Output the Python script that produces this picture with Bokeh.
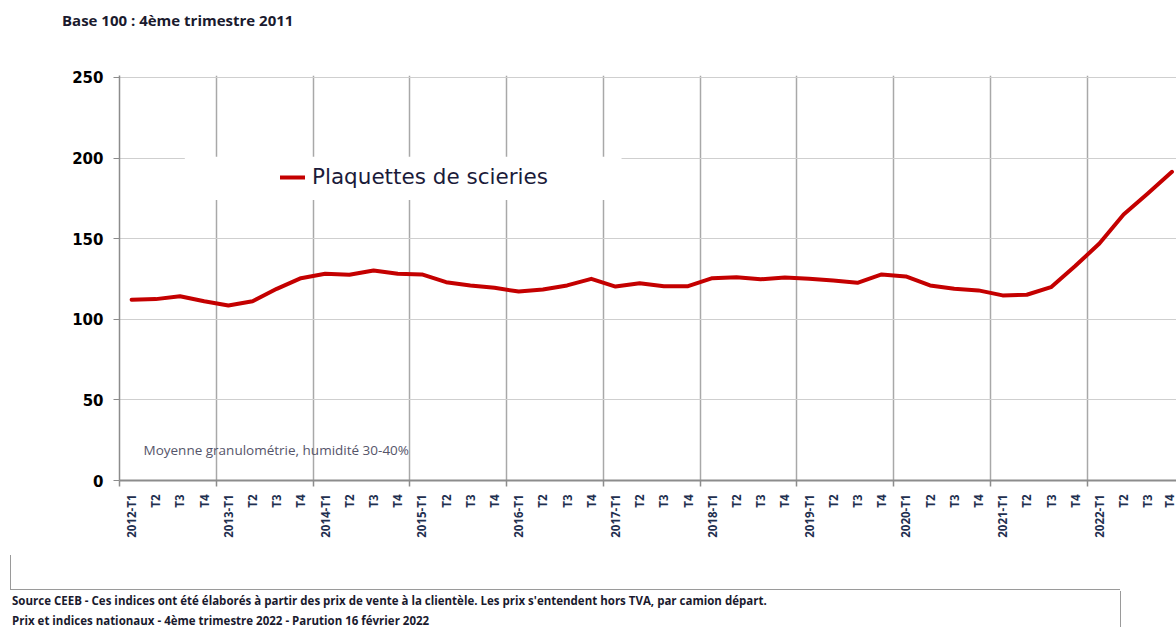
import math
from bokeh.plotting import figure
from bokeh.models import (ColumnDataSource, FixedTicker, Range1d, Label, Legend,
                          LegendItem, BoxAnnotation, Div)
from bokeh.layouts import column
from bokeh.embed import file_html
from bokeh.resources import INLINE

# Quarterly index, base 100 = Q4 2011
years = list(range(2012, 2023))
quarters = ["T1", "T2", "T3", "T4"]
tick_labels = []
for y in years:
    for q in quarters:
        tick_labels.append(f"{y}-{q}" if q == "T1" else q)

plaquettes = [112.1, 112.5, 114.3, 111.2,
              108.6, 111.2, 118.9, 125.5,
              128.2, 127.6, 130.3, 128.2,
              127.8, 123.0, 121.0, 119.5,
              117.2, 118.5, 121.0, 125.1,
              120.3, 122.4, 120.5, 120.5,
              125.5, 126.1, 124.8, 125.9,
              125.1, 124.0, 122.6, 127.8,
              126.6, 121.0, 118.9, 117.9,
              114.8, 115.2, 119.9, 133.0,
              147.0, 165.0, 178.0, 191.5]

y_ticks = [0, 50, 100, 150, 200, 250]

series_name = "Plaquettes de scieries"
title_text = "Base 100 : 4ème trimestre 2011"
note_text = "Moyenne granulométrie,  humidité 30-40%"
source_text = ("Source CEEB - Ces indices ont été élaborés à partir des prix de vente à la clientèle. "
               "Les prix s'entendent hors TVA, par camion départ.")
edition_text = "Prix et indices nationaux - 4ème trimestre 2022 - Parution 16 février 2022"

xs = list(range(len(tick_labels)))
src = ColumnDataSource(data=dict(x=xs, y=plaquettes))

left_border = 119
fig_w = 1176
step = 24.195
x_end = -0.5 + (fig_w - left_border) / step
header_h = 40

header = Div(width=fig_w, height=header_h, margin=0, text=f"""
<div style="position:relative;width:{fig_w}px;height:{header_h}px;">
  <div style="position:absolute;left:62px;top:10px;font-family:'Open Sans';font-weight:bold;
              font-size:15px;line-height:20px;color:#1a1a2e;white-space:nowrap;">{title_text}</div>
</div>
""")

p = figure(width=fig_w, height=555 - header_h, output_backend="svg", toolbar_location=None,
           x_range=Range1d(-0.5, x_end), y_range=Range1d(0, 251.2),
           min_border_left=left_border, min_border_right=0,
           min_border_top=75 - header_h, min_border_bottom=75, margin=0)
p.outline_line_color = None
p.background_fill_color = "white"
p.border_fill_color = "white"

# x axis: labels at every quarter, tick marks only at year boundaries
bounds = [i - 0.5 for i in range(4, len(tick_labels), 4)]
p.xaxis.ticker = FixedTicker(ticks=xs, minor_ticks=[-0.5] + bounds)
p.xaxis.major_label_overrides = {i: lab for i, lab in enumerate(tick_labels)}
p.xaxis.major_label_orientation = math.pi / 2
p.xaxis.major_label_text_font = "Open Sans"
p.xaxis.major_label_text_font_style = "bold"
p.xaxis.major_label_text_font_size = "11.5px"
p.xaxis.major_label_text_color = "#1f3050"
p.xaxis.major_label_standoff = 8
p.xaxis.major_tick_line_color = None
p.xaxis.major_tick_out = 0
p.xaxis.minor_tick_in = 0
p.xaxis.minor_tick_out = 6
p.xaxis.minor_tick_line_color = "#8c8c8c"
p.xaxis.minor_tick_line_width = 1.5
p.xaxis.axis_line_color = "#8c8c8c"
p.xaxis.axis_line_width = 2

p.xgrid.ticker = FixedTicker(ticks=bounds)
p.xgrid.grid_line_color = "#a8a8a8"
p.xgrid.grid_line_width = 1.5

# y axis
p.yaxis.ticker = FixedTicker(ticks=y_ticks)
p.yaxis.major_label_text_font = "DejaVu Sans"
p.yaxis.major_label_text_font_style = "bold"
p.yaxis.major_label_text_font_size = "15px"
p.yaxis.major_label_text_color = "#000000"
p.yaxis.major_label_standoff = 10
p.yaxis.major_tick_in = 0
p.yaxis.major_tick_out = 6
p.yaxis.major_tick_line_color = "#8c8c8c"
p.yaxis.minor_tick_line_color = None
p.yaxis.axis_line_color = "#8c8c8c"
p.yaxis.axis_line_width = 1.5
p.ygrid.grid_line_color = "#cfcfcf"
p.ygrid.grid_line_width = 1.2

# white panel behind the legend
p.add_layout(BoxAnnotation(left=2.2, right=20.25, bottom=174.0, top=200.8,
                           fill_color="white", fill_alpha=1.0, line_color=None))

r = p.line("x", "y", source=src, line_color="#c40000", line_width=4,
           line_join="round", line_cap="round")

legend = Legend(items=[LegendItem(label=series_name, renderers=[r])],
                location=(161, 291), padding=0, margin=0, spacing=0,
                glyph_width=25, label_standoff=7,
                label_text_font="DejaVu Sans", label_text_font_size="21.5px",
                label_text_color="#1b1b3a",
                background_fill_alpha=0, border_line_color=None)
p.add_layout(legend, "center")

p.add_layout(Label(x=24, y=31, x_units="screen", y_units="screen", text=note_text,
                   text_font="Open Sans", text_font_size="13.5px", text_color="#55556a",
                   text_baseline="middle"))

footer = Div(width=fig_w, height=72, margin=0, text=f"""
<div style="position:relative;width:{fig_w}px;height:72px;font-family:'Open Sans';color:#1a1a2e;">
  <div style="position:absolute;left:10px;top:0px;width:1110px;height:35px;
              border-left:1px solid #9a9a9a;border-bottom:1px solid #9a9a9a;"></div>
  <div style="position:absolute;left:1120px;top:36px;height:36px;border-left:1px solid #9a9a9a;"></div>
  <div style="position:absolute;left:12px;top:38px;font-size:11.5px;line-height:16px;font-weight:bold;white-space:nowrap;">{source_text}</div>
  <div style="position:absolute;left:12px;top:58px;font-size:11.5px;line-height:16px;font-weight:bold;white-space:nowrap;">{edition_text}</div>
</div>
""")

layout = column(header, p, footer, spacing=0)
open("out.html", "w").write(file_html(layout, INLINE))
